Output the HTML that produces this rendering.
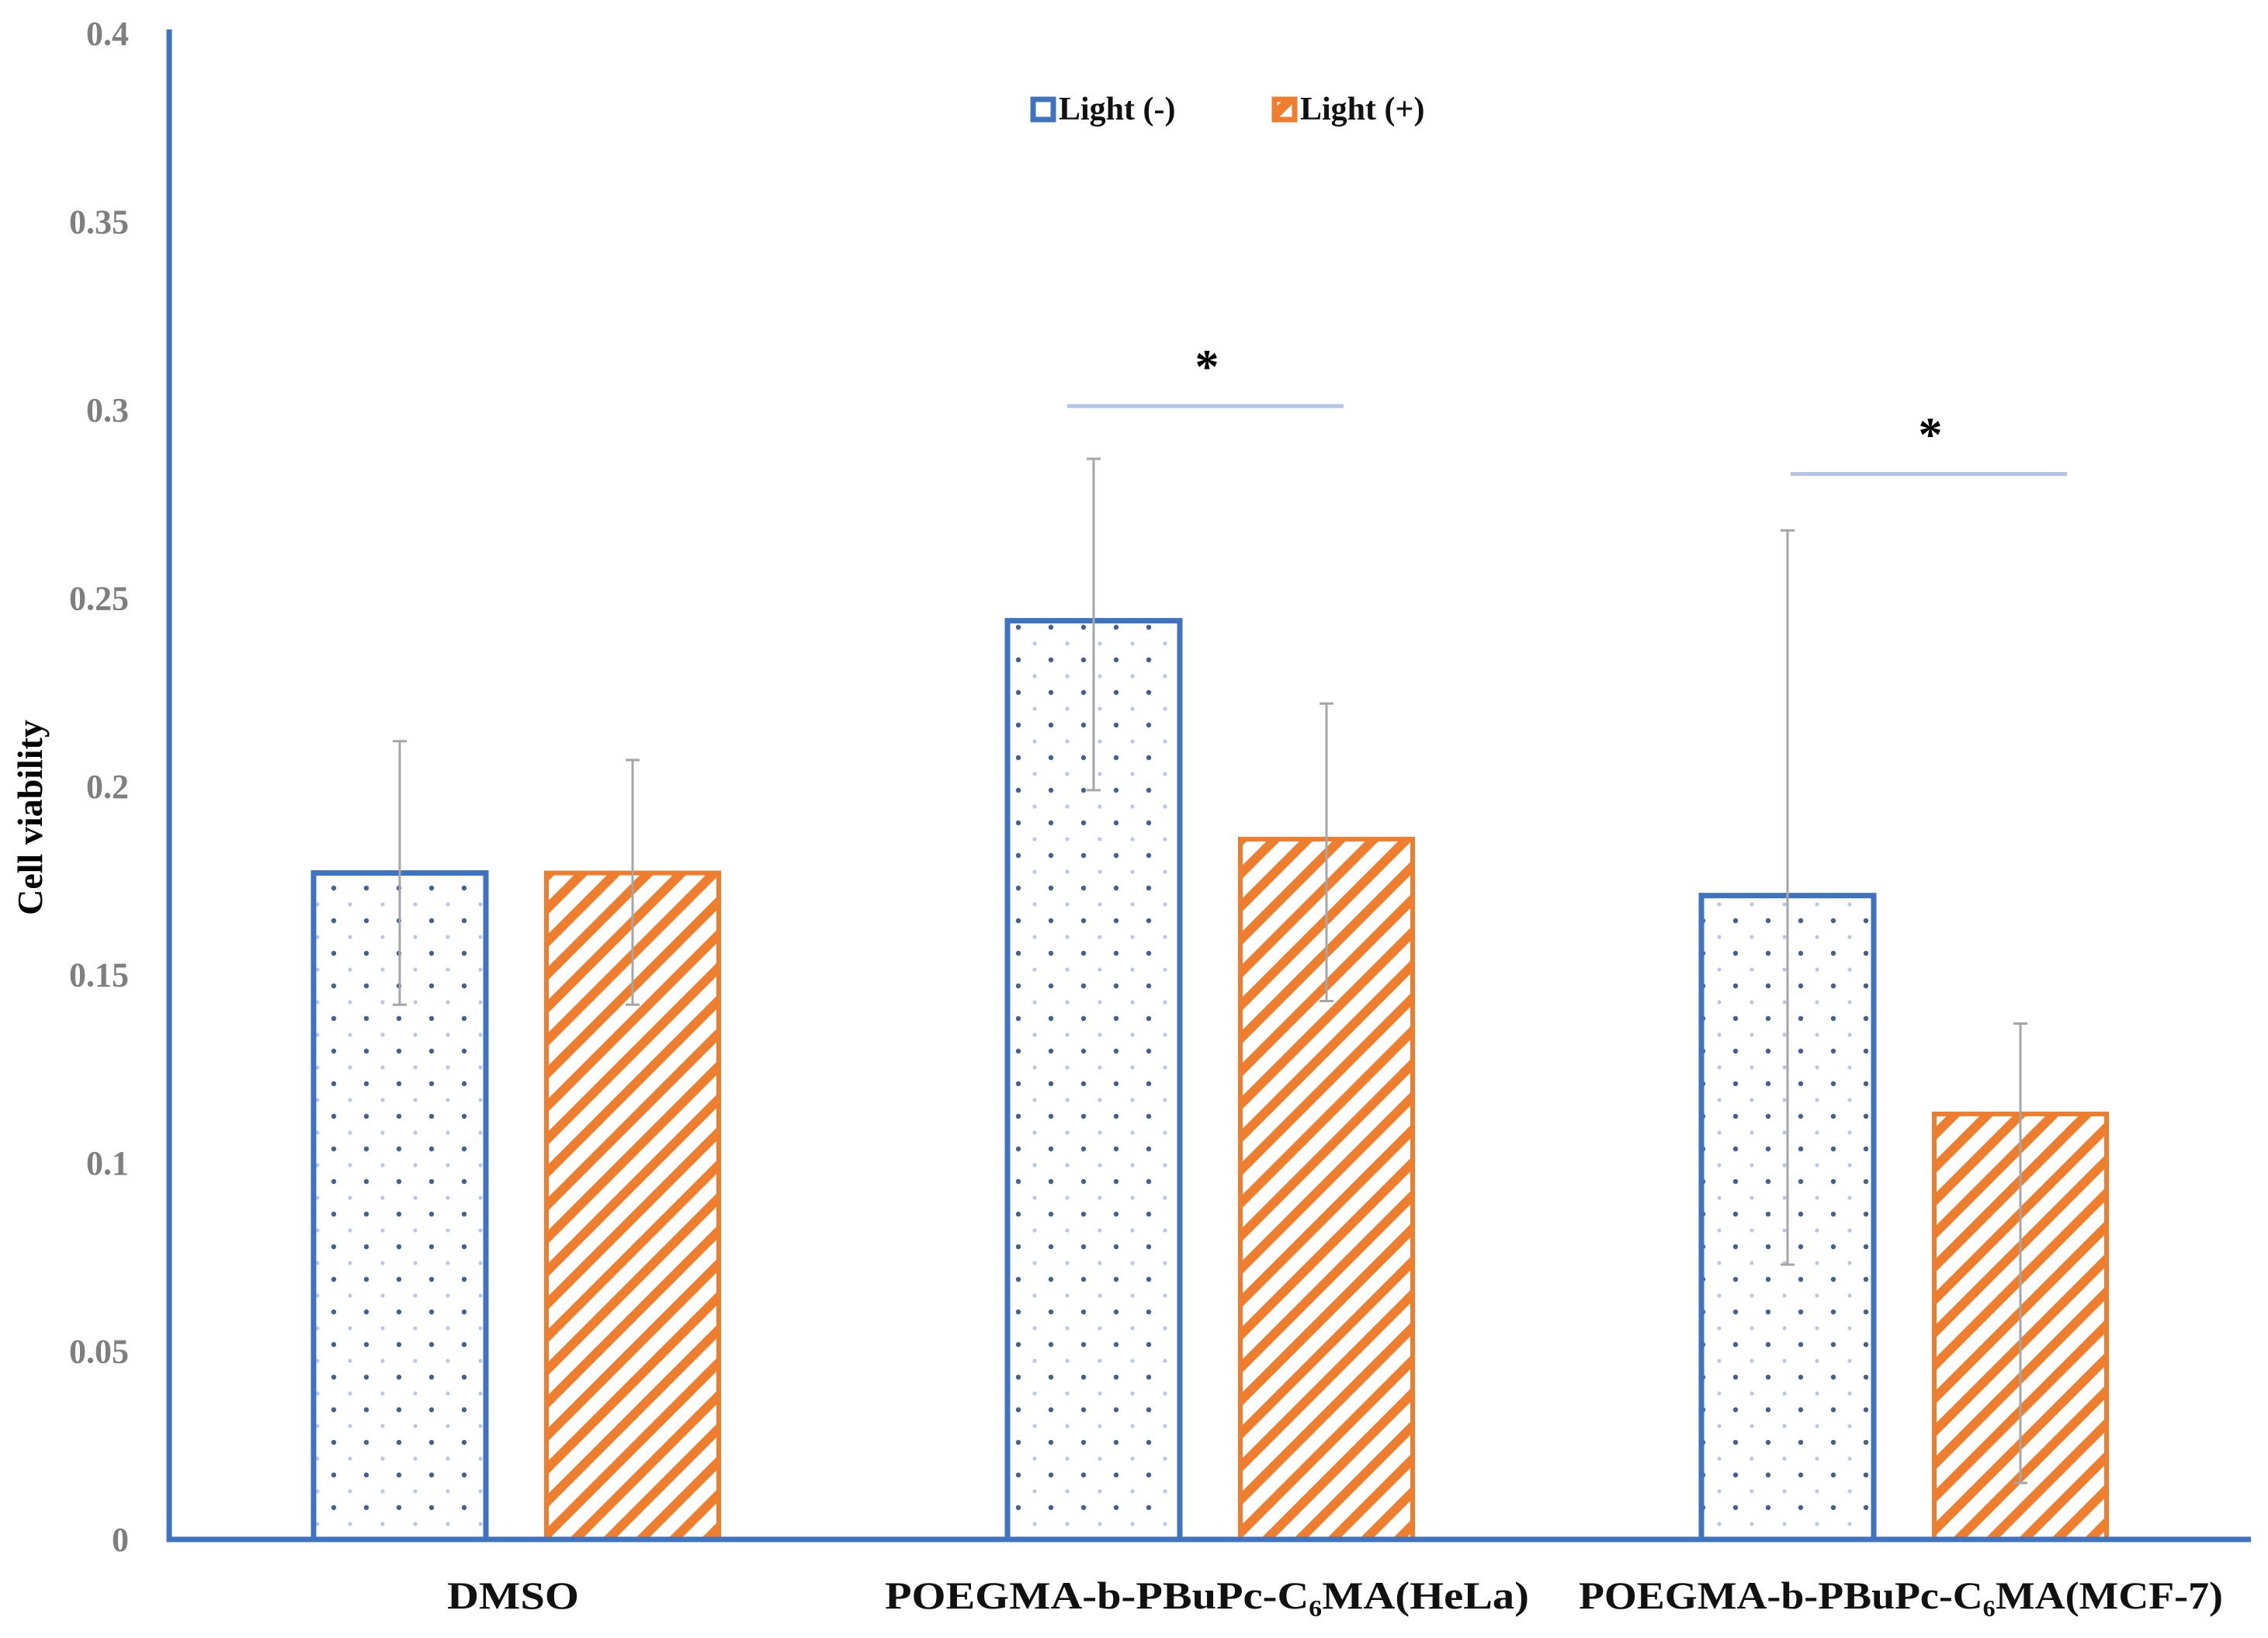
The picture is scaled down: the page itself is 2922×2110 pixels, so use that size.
<!DOCTYPE html>
<html><head><meta charset="utf-8"><style>
html,body{margin:0;padding:0;background:#fff;}
svg{display:block;}
text{font-family:"Liberation Serif",serif;font-weight:bold;}
</style></head><body>
<svg id="chart" width="2922" height="2110" viewBox="0 0 2922 2110" xmlns="http://www.w3.org/2000/svg">
<defs>
<pattern id="dots" patternUnits="userSpaceOnUse" width="42" height="42">
<circle cx="10" cy="10" r="3.2" fill="#44608f"/>
<circle cx="31" cy="31" r="2.6" fill="#b9c8e6"/>
</pattern>
<pattern id="stripes" patternUnits="userSpaceOnUse" width="30" height="30" patternTransform="rotate(45)">
<rect x="0" y="0" width="30" height="30" fill="#fff"/>
<rect x="0" y="0" width="12" height="30" fill="#ef7d2e"/>
</pattern>
</defs>
<g id="plot"></g>
</svg>
<script>
const categories = ["DMSO", "POEGMA-b-PBuPc-C\u2086MA(HeLa)", "POEGMA-b-PBuPc-C\u2086MA(MCF-7)"];
const lightOff = [0.177, 0.244, 0.171];
const lightOn = [0.177, 0.186, 0.113];
const errOffUp = [0.035, 0.043, 0.097];
const errOffDown = [0.035, 0.045, 0.098];
const errOnUp = [0.030, 0.036, 0.024];
const errOnDown = [0.035, 0.043, 0.098];
const yTicks = [0, 0.05, 0.1, 0.15, 0.2, 0.25, 0.3, 0.35, 0.4];
const yTickLabels = ["0", "0.05", "0.1", "0.15", "0.2", "0.25", "0.3", "0.35", "0.4"];
const sigPairs = [1, 2];
const sigLevels = [0.301, 0.283];

const NS = "http://www.w3.org/2000/svg";
const g = document.getElementById('plot');
const X0 = 218, X1 = 2900, Y0 = 1983, PXU = 4850;
const catW = (X1 - X0) / categories.length;
function xc(i){ return X0 + catW * (i + 0.5); }
function yv(v){ return Y0 - v * PXU; }
function mk(tag, attrs, parent){
  const e = document.createElementNS(NS, tag);
  for (const k in attrs) e.setAttribute(k, attrs[k]);
  (parent || g).appendChild(e);
  return e;
}
const BW = 222, OFF = 150;

yTicks.forEach((t, i) => {
  const tx = mk('text', {x: 166, y: yv(t) + 15, 'text-anchor': 'end', 'font-size': 44, fill: '#7f7f7f'});
  tx.textContent = yTickLabels[i];
  
  
});

categories.forEach((c, i) => {
  const vb = lightOff[i], vo = lightOn[i];
  const b = mk('rect', {x: xc(i) - OFF - BW/2, y: yv(vb), width: BW, height: Y0 - yv(vb), fill: 'url(#dots)', stroke: '#3f73c0', 'stroke-width': 7});
  
  
  const o = mk('rect', {x: xc(i) + OFF - BW/2, y: yv(vo), width: BW, height: Y0 - yv(vo), fill: 'url(#stripes)', stroke: '#ef7d2e', 'stroke-width': 6});
  
  
  [[xc(i) - OFF, vb, errOffUp[i], errOffDown[i]], [xc(i) + OFF, vo, errOnUp[i], errOnDown[i]]].forEach(([x, v, u, d]) => {
    const eg = mk('g', {stroke: '#a6a6a6', 'stroke-width': 3});
    
    
    mk('line', {x1: x, x2: x, y1: yv(v + u), y2: yv(v - d)}, eg);
    mk('line', {x1: x - 9, x2: x + 9, y1: yv(v + u), y2: yv(v + u)}, eg);
    mk('line', {x1: x - 9, x2: x + 9, y1: yv(v - d), y2: yv(v - d)}, eg);
  });
  const lab = mk('text', {x: xc(i) - 4, y: 2072, 'text-anchor': 'middle', 'font-size': 50, fill: '#111'});
  lab.textContent = c;
  if (i > 0) { lab.setAttribute('textLength', 830); lab.setAttribute('lengthAdjust', 'spacingAndGlyphs'); }
  else { lab.setAttribute('textLength', 170); lab.setAttribute('lengthAdjust', 'spacingAndGlyphs'); }
  
  
});

sigPairs.forEach((ci, k) => {
  const y = yv(sigLevels[k]);
  const cx = xc(ci) + (k === 0 ? -6 : 32);
  const l = mk('line', {x1: cx - 178, x2: cx + 178, y1: y, y2: y, stroke: '#b4c3e8', 'stroke-width': 5});
  
  
  const s = mk('text', {x: cx + 2, y: y - 30, 'text-anchor': 'middle', 'font-size': 62, fill: '#000'});
  s.textContent = '*';
  
  
});

const ya = mk('line', {x1: X0, x2: X0, y1: 38, y2: Y0 + 3, stroke: '#3f73c0', 'stroke-width': 7});


const xa = mk('line', {x1: X0 - 3, x2: X1, y1: Y0, y2: Y0, stroke: '#3f73c0', 'stroke-width': 7});



const yt = mk('text', {x: 0, y: 0, transform: 'translate(54,1053) rotate(-90)', 'text-anchor': 'middle', 'font-size': 46, fill: '#000'});
yt.textContent = 'Cell viability';



const lg = mk('g', {});


const l1 = mk('g', {}, lg);


mk('rect', {x: 1331, y: 128, width: 26, height: 26, fill: '#fff', stroke: '#3f73c0', 'stroke-width': 7}, l1);
const t1 = mk('text', {x: 1364, y: 154, 'font-size': 42, fill: '#111'}, l1);
t1.textContent = 'Light (-)';
const l2 = mk('g', {}, lg);


mk('rect', {x: 1642, y: 128, width: 26, height: 26, fill: 'url(#stripes)', stroke: '#ef7d2e', 'stroke-width': 7}, l2);
const t2 = mk('text', {x: 1675, y: 154, 'font-size': 42, fill: '#111'}, l2);
t2.textContent = 'Light (+)';
</script>
</body></html>
